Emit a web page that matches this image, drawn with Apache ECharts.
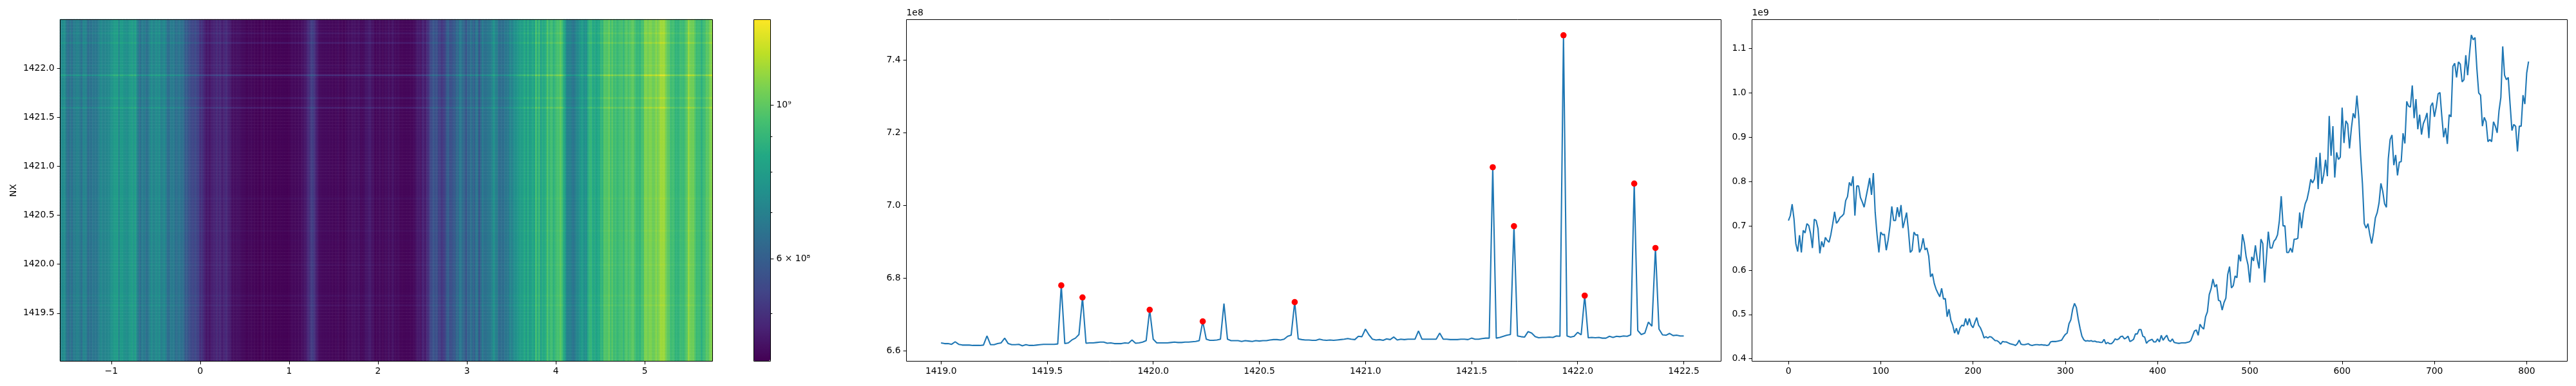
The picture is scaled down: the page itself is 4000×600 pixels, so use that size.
<!DOCTYPE html>
<html>
<head>
<meta charset="utf-8">
<style>html,body{margin:0;padding:0;background:#fff}#c{width:4000px;height:600px}</style>
<script src="https://cdn.jsdelivr.net/npm/echarts@6/dist/echarts.min.js"></script>
</head>
<body>
<div id="c"></div>
<script>
// Row profile: one value per row, unit 1e8, rows start at 1419 with a step of 1/60
const rowProfile = [
6.622,6.620,6.620,6.618,6.625,6.618,6.616,6.616,6.616,6.615,
6.615,6.615,6.616,6.641,6.617,6.617,6.620,6.622,6.635,6.620,
6.617,6.617,6.618,6.614,6.617,6.615,6.615,6.616,6.617,6.618,
6.618,6.618,6.618,6.619,6.780,6.620,6.622,6.630,6.635,6.645,
6.747,6.621,6.622,6.622,6.623,6.624,6.624,6.621,6.622,6.620,
6.620,6.620,6.622,6.621,6.630,6.621,6.622,6.624,6.628,6.713,
6.632,6.622,6.622,6.622,6.622,6.623,6.624,6.623,6.623,6.624,
6.624,6.625,6.626,6.628,6.681,6.632,6.629,6.629,6.630,6.632,
6.730,6.632,6.628,6.628,6.628,6.626,6.628,6.627,6.626,6.628,
6.627,6.628,6.628,6.630,6.631,6.631,6.630,6.632,6.640,6.643,
6.734,6.633,6.631,6.630,6.630,6.629,6.629,6.632,6.630,6.629,
6.630,6.629,6.630,6.631,6.632,6.634,6.632,6.631,6.640,6.639,
6.660,6.644,6.632,6.630,6.631,6.629,6.633,6.631,6.638,6.630,
6.632,6.631,6.632,6.632,6.632,6.655,6.632,6.632,6.632,6.632,
6.632,6.649,6.632,6.632,6.631,6.631,6.631,6.632,6.632,6.631,
6.635,6.632,6.632,6.634,6.635,6.635,7.105,6.635,6.637,6.640,
6.643,6.645,6.943,6.641,6.639,6.638,6.653,6.649,6.639,6.636,
6.637,6.637,6.638,6.637,6.641,6.640,7.468,6.641,6.638,6.640,
6.651,6.644,6.752,6.636,6.637,6.636,6.637,6.635,6.635,6.640,
6.637,6.640,6.639,6.641,6.640,6.644,7.060,6.656,6.645,6.649,
6.679,6.668,6.883,6.660,6.644,6.643,6.648,6.642,6.643,6.641,6.641];
const rowStart = 1419;
const rowStep = 1 / 60;
const peakRows = [34,40,59,74,100,156,162,176,182,196,202];

// Column profile: one value for every second index 0, 2, ... 802, unit 1e6
const columnProfile = [
712,723,749,716,660,642,679,640,690,684,
705,701,682,650,715,712,694,638,665,652,
674,667,663,681,705,732,706,711,719,722,
727,757,766,798,790,812,723,790,790,764,
754,742,764,785,808,770,819,730,680,640,
686,680,681,645,668,700,744,712,712,742,
720,747,695,712,730,690,640,645,686,679,
680,640,650,672,646,
650,632,585,592,570,557,548,540,559,535,
536,495,512,487,476,458,469,455,470,476,
474,491,476,491,476,470,482,493,476,470,
460,
447,450,447,450,449,445,441,441,438,
433,439,438,438,436,434,433,432,430,434,
442,433,432,432,433,434,431,430,431,432,
432,431,432,431,431,430,431,438,439,439,
439,440,441,442,449,455,458,479,488,512,
525,516,490,469,451,443,440,441,
440,441,439,440,438,438,437,437,
444,434,437,434,434,438,445,443,445,450,
451,445,447,451,439,441,444,456,456,466,
466,451,449,435,440,442,444,438,438,445,
438,453,442,448,453,442,439,445,437,436,
435,435,436,436,436,437,438,441,452,463,
465,453,478,471,467,495,506,545,558,580,
562,568,532,530,510,527,537,
590,608,560,565,587,583,635,620,681,662,
630,612,572,630,621,656,625,604,670,660,
572,630,687,650,650,665,670,680,712,767,
700,700,640,640,650,640,670,670,672,730,
695,730,750,760,780,805,797,806,855,783,
865,795,815,849,812,948,858,925,809,866,
850,855,967,887,937,930,875,920,954,943,
994,945,860,795,705,695,705,680,660,685,
718,730,752,796,778,750,742,851,895,905,
837,860,814,844,845,909,886,981,970,968,
1017,943,986,918,951,906,931,941,955,898,
970,978,946,968,998,1001,948,900,921,885,
951,946,1060,1067,1035,1070,1065,1025,1030,1085,
1040,1088,1131,1120,1125,1055,1000,995,925,945,
935,890,895,890,935,925,910,960,990,1105,
1040,1030,1035,975,915,929,925,868,925,925,
995,975,1045,1071];
const columnIndexStep = 2;

// Tick labels
const heatXTicks = [-1,0,1,2,3,4,5];
const heatYTicks = [1419.5,1420,1420.5,1421,1421.5,1422];
const rowXTicks = [1419,1419.5,1420,1420.5,1421,1421.5,1422,1422.5];
const rowYTicks = [6.6,6.8,7.0,7.2,7.4];
const colXTicks = [0,100,200,300,400,500,600,700,800];
const colYTicks = [0.4,0.5,0.6,0.7,0.8,0.9,1.0,1.1];
const colorMajor = [[6e8,'6 × 10⁸'],[1e9,'10⁹']];
const colorMinor = [5e8,7e8,8e8,9e8];
const colorRange = [4.27e8,1.327e9];
const viridis = ['#440154','#482475','#414487','#355f8d','#2a788e','#21918c','#22a884','#44bf70','#7ad151','#bddf26','#fde725'];

const FONT = 'DejaVu Sans', FS = 13.9;
const rowMean = rowProfile.reduce((a,b)=>a+b,0) / rowProfile.length;
const heatData = [];
columnProfile.forEach((c,i)=>rowProfile.forEach((r,j)=>{
  heatData.push([i,j,Math.log10(c*1e6*r/rowMean)]);
}));
const rowLine = rowProfile.map((v,j)=>[rowStart+j*rowStep,v]);
const peaks = peakRows.map(j=>rowLine[j]);
const colLine = columnProfile.map((v,i)=>[i*columnIndexStep,v/1000]);

function tickAxis(extra){
  const ticks = extra.ticks, fmt = extra.fmt, len = extra.len===undefined?4.9:extra.len;
  const o = Object.assign({
    type:'value', scale:true, splitLine:{show:false},
    axisLine:{show:false,onZero:false},
    axisTick:{show:true,inside:false,length:len,customValues:ticks,lineStyle:{color:'#000',width:1}},
    axisLabel:{show:!!fmt,customValues:ticks,formatter:fmt,color:'#000',fontFamily:FONT,fontSize:FS,margin:9,hideOverlap:false}
  },extra);
  delete o.ticks; delete o.fmt; delete o.len;
  return o;
}
const f1 = v=>Number(v).toFixed(1);
const fint = v=>String(Math.round(v)).replace('-','−');
const scaleName = {fontFamily:FONT,fontSize:FS,color:'#000',align:'left',verticalAlign:'bottom'};

const T=30, H=531;
const frame = {show:true,backgroundColor:'transparent',borderColor:'#000',borderWidth:1};
const option = {
  animation:false, backgroundColor:'#fff',
  grid:[
    {left:93,top:T,width:1013,height:H},                                   // 0 heat cells
    Object.assign({left:93.5,top:T+.5,width:1013,height:H,z:10},frame),    // 1 heat ticks
    Object.assign({left:1170.5,top:T+.5,width:26,height:H,z:10},frame),    // 2 colour bar
    Object.assign({left:1407.5,top:T+.5,width:1265,height:H},frame),       // 3 rows
    Object.assign({left:2720.5,top:T+.5,width:1266,height:H},frame)        // 4 columns
  ],
  xAxis:[
    {type:'category',gridIndex:0,show:false,data:columnProfile.map((_,i)=>i)},
    tickAxis({gridIndex:1,min:-1.574,max:5.762,ticks:heatXTicks,fmt:fint,z:11}),
    {type:'value',gridIndex:2,show:false,min:0,max:1},
    tickAxis({gridIndex:3,min:1418.837,max:1422.676,ticks:rowXTicks,fmt:f1}),
    tickAxis({gridIndex:4,min:-39.5,max:844,ticks:colXTicks,fmt:fint})
  ],
  yAxis:[
    {type:'category',gridIndex:0,show:false,data:rowProfile.map((_,j)=>j)},
    tickAxis({gridIndex:1,min:1419.01,max:1422.497,ticks:heatYTicks,fmt:f1,z:11,name:'NX',nameLocation:'middle',nameGap:65,
      nameTextStyle:{fontFamily:FONT,fontSize:FS,color:'#000'}}),
    tickAxis({gridIndex:2,position:'right',min:Math.log10(colorRange[0]),max:Math.log10(colorRange[1]),
      ticks:colorMajor.map(m=>Math.log10(m[0])),z:11,
      fmt:v=>{const m=colorMajor.find(m=>Math.abs(Math.log10(m[0])-v)<1e-6);return m?m[1]:'';}}),
    tickAxis({gridIndex:2,position:'right',min:Math.log10(colorRange[0]),max:Math.log10(colorRange[1]),
      ticks:colorMinor.map(Math.log10),len:2.8,z:11}),
    tickAxis({gridIndex:3,min:6.5715,max:7.511,ticks:rowYTicks,fmt:f1,name:'1e8',nameLocation:'end',nameGap:3,nameTextStyle:scaleName}),
    tickAxis({gridIndex:4,min:0.3945,max:1.1655,ticks:colYTicks,fmt:f1,name:'1e9',nameLocation:'end',nameGap:3,nameTextStyle:scaleName})
  ],
  visualMap:{
    type:'continuous',seriesIndex:0,min:Math.log10(colorRange[0]),max:Math.log10(colorRange[1]),
    left:1170,top:T,itemWidth:26,itemHeight:H,padding:0,calculable:false,realtime:false,text:null,showLabel:false,
    inRange:{color:viridis},z:5
  },
  series:[
    {type:'heatmap',xAxisIndex:0,yAxisIndex:0,data:heatData,progressive:0,silent:true,emphasis:{disabled:true},z:1},
    {type:'line',xAxisIndex:3,yAxisIndex:4,data:rowLine,showSymbol:false,symbol:'none',lineStyle:{color:'#1f77b4',width:2.08},z:2,silent:true},
    {type:'scatter',xAxisIndex:3,yAxisIndex:4,data:peaks,symbol:'circle',symbolSize:9.6,itemStyle:{color:'#ff0000',opacity:1},z:3,silent:true},
    {type:'line',xAxisIndex:4,yAxisIndex:5,data:colLine,showSymbol:false,symbol:'none',lineStyle:{color:'#1f77b4',width:2.08},z:2,silent:true}
  ]
};
const chart = echarts.init(document.getElementById('c'),null,{renderer:'canvas'});
chart.setOption(option);
</script>
</body>
</html>
